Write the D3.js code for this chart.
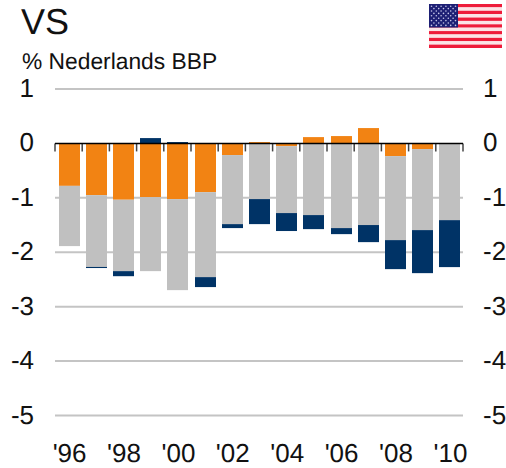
<!DOCTYPE html>
<html>
<head>
<meta charset="utf-8">
<script src="https://cdn.jsdelivr.net/npm/d3@7"></script>
<style>
html, body { margin: 0; padding: 0; background: #fff; }
svg { display: block; }
text { font-family: "Liberation Sans", Arial, sans-serif; fill: #111; text-rendering: geometricPrecision; }
</style>
</head>
<body>
<svg width="506" height="468"></svg>
<script>
const years = d3.range(1996, 2011)
const yearLabels = ["'96", "'98", "'00", "'02", "'04", "'06", "'08", "'10"]
const yTicks = [1, 0, -1, -2, -3, -4, -5]

const orange = [-0.78, -0.95, -1.035, -0.987, -1.023, -0.895, -0.214, 0.025, -0.05, 0.116, 0.135, 0.282, -0.233, -0.104, 0]
const grey = [-1.107, -1.32, -1.312, -1.36, -1.673, -1.562, -1.269, -1.023, -1.23, -1.317, -1.556, -1.5, -1.544, -1.489, -1.41]
const navy = [0, -0.02, -0.093, 0.098, 0.025, -0.183, -0.073, -0.46, -0.33, -0.258, -0.111, -0.314, -0.533, -0.791, -0.863]

const colors = { orange: "#f28313", grey: "#c0c0c0", navy: "#003366" }

const flagStripes = d3.range(13)
const starRows = d3.range(9)

const svg = d3.select("svg")

const x = d3.scaleBand().domain(years).range([55, 463]).paddingInner(0.228).paddingOuter(0.114)
const y = d3.scaleLinear().domain([1, -5]).range([89, 415.5])

const rows = years.map((year, i) => ({ year, orange: orange[i], grey: grey[i], navy: navy[i] }))
const stacked = d3.stack()
    .keys(["orange", "grey", "navy"])
    .offset(d3.stackOffsetDiverging)(rows)

// title block
svg.append("text").attr("x", 21).attr("y", 34).attr("font-size", 36).text("VS")
svg.append("text").attr("x", 22).attr("y", 69).attr("font-size", 22.8).text("% Nederlands BBP")

// gridlines
svg.append("g")
    .selectAll("line")
    .data(yTicks.filter(d => d !== 0))
    .enter().append("line")
    .attr("x1", 55)
    .attr("x2", 463)
    .attr("y1", d => y(d))
    .attr("y2", d => y(d))
    .attr("stroke", "#c4c4c4")
    .attr("stroke-width", 2)

// bars, snapped to whole pixels in x
svg.append("g")
    .selectAll("g")
    .data(stacked)
    .enter().append("g")
    .attr("fill", d => colors[d.key])
    .selectAll("rect")
    .data(d => d)
    .enter().append("rect")
    .attr("x", d => Math.round(x(d.data.year) + 0.4))
    .attr("width", Math.round(x.bandwidth()))
    .attr("y", d => y(d[1]))
    .attr("height", d => y(d[0]) - y(d[1]))

// zero line with ticks between the years
svg.append("g")
    .selectAll("line")
    .data(d3.range(0, years.length + 1))
    .enter().append("line")
    .attr("x1", d => 55 + d * x.step())
    .attr("x2", d => 55 + d * x.step())
    .attr("y1", y(0))
    .attr("y2", y(0) + 8)
    .attr("stroke", "#444")
    .attr("stroke-width", 1.5)

svg.append("line")
    .attr("x1", 55)
    .attr("x2", 463)
    .attr("y1", y(0))
    .attr("y2", y(0))
    .attr("stroke", "#000")
    .attr("stroke-width", 1.5)

// y axes, both sides. plain hyphen for the negatives, like the original
const yFormat = d => String(d)
const yLeft = svg.append("g")
    .attr("transform", "translate(34,0)")
    .call(d3.axisLeft(y).tickValues(yTicks).tickFormat(yFormat).tickSize(0).tickPadding(0))
const yRight = svg.append("g")
    .attr("transform", "translate(483,0)")
    .call(d3.axisRight(y).tickValues(yTicks).tickFormat(yFormat).tickSize(0).tickPadding(0))

for (const axis of [yLeft, yRight]) {
    axis.select(".domain").remove()
    axis.attr("font-family", null).attr("font-size", null)
    axis.selectAll("text").attr("font-size", 26).attr("dy", "0.29em")
}

// x axis labels, every second year
svg.append("g")
    .selectAll("text")
    .data(yearLabels)
    .enter().append("text")
    .attr("x", (d, i) => x(years[i * 2]) + x.bandwidth() / 2 + 1)
    .attr("y", 462)
    .attr("text-anchor", "middle")
    .attr("font-size", 26)
    .text(d => d)

// flag
const flag = svg.append("g").attr("transform", "translate(429,4)")
const flagH = d3.scaleBand().domain(flagStripes).range([0, 44])
flag.selectAll("rect.stripe")
    .data(flagStripes)
    .enter().append("rect")
    .attr("class", "stripe")
    .attr("x", 0)
    .attr("width", 73)
    .attr("y", d => flagH(d))
    .attr("height", flagH.bandwidth())
    .attr("fill", d => d % 2 ? "#fbe4e6" : "#ee1c3a")
flag.append("rect").attr("width", 29).attr("height", 23.5).attr("fill", "#1d1f74")
flag.selectAll("circle")
    .data(starRows.flatMap(r => d3.range(r % 2 ? 5 : 6).map(c => ({ r, c }))))
    .enter().append("circle")
    .attr("cx", d => 2.5 + d.c * 4.8 + (d.r % 2 ? 2.4 : 0))
    .attr("cy", d => 2.2 + d.r * 2.4)
    .attr("r", 0.8)
    .attr("fill", "#c8c8ea")
</script>
</body>
</html>
